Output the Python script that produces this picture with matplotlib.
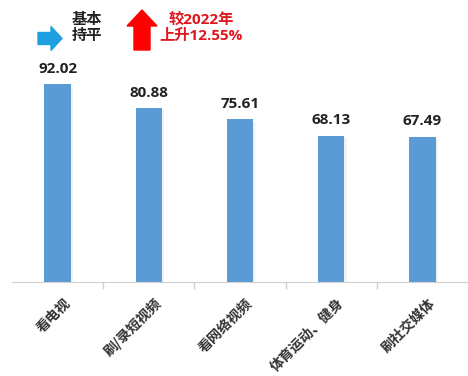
import matplotlib.pyplot as plt
import matplotlib.patches as mpatches
import matplotlib.patheffects as pe

plt.rcParams['font.family'] = ['Open Sans', 'Noto Sans CJK SC', 'DejaVu Sans']

categories = ["看电视", "刷/录短视频", "看网络视频", "体育运动、健身", "刷社交媒体"]
values = [92.02, 80.88, 75.61, 68.13, 67.49]

W, H = 468, 376
fig = plt.figure(figsize=(W / 100, H / 100), dpi=100)
ax = fig.add_axes([12 / W, 94 / H, 456 / W, 215 / H])

x = range(len(categories))
bars = ax.bar(x, values, width=0.29, color="#5B9BD5", zorder=2)
for b in bars:
    b.set_path_effects([pe.SimplePatchShadow(offset=(1.5, -1.5), alpha=0.08,
                                             shadow_rgbFace="#555555"),
                        pe.Normal()])
for i, v in zip(x, values):
    ax.text(i, v + 4, f"{v:.2f}", ha="center", va="bottom",
            fontsize=11, fontweight="bold", color="#222222")

ax.set_xlim(-0.5, len(categories) - 0.5)
ax.set_ylim(0, 100)
ax.set_yticks([])
ax.set_xticks([i + 0.5 for i in range(len(categories) - 1)])
ax.set_xticklabels([])
ax.tick_params(axis="x", length=5, color="#d0d0d0", width=1)
for i, c in enumerate(categories):
    ax.text(i + 0.06, -0.065, c, transform=ax.get_xaxis_transform(),
            rotation=45, ha="right", va="top", rotation_mode="anchor",
            fontsize=10, fontweight="bold", color="#333333",
            family=["Noto Sans CJK SC", "DejaVu Sans"])
for s in ["top", "right", "left"]:
    ax.spines[s].set_visible(False)
ax.spines["bottom"].set_color("#d0d0d0")


def fx(px):
    return px / W


def fy(py):
    return 1 - py / H


blue = mpatches.FancyArrow(fx(38), fy(38.5), fx(13), 0, width=12 / H,
                           head_width=24 / H, head_length=11 / W,
                           length_includes_head=False, color="#1E9FE0",
                           transform=fig.transFigure)
fig.add_artist(blue)
fig.text(fx(72), fy(28), "基本\n持平", ha="left", va="center",
         fontsize=11, fontweight="bold", color="#222222", linespacing=1.15)

red = mpatches.FancyArrow(fx(142), fy(50), 0, 24 / H, width=16 / W,
                          head_width=30 / W, head_length=16 / H,
                          length_includes_head=False, color="#FF0000",
                          transform=fig.transFigure)
fig.add_artist(red)
fig.text(fx(201), fy(28), "较2022年\n上升12.55%", ha="center", va="center",
         fontsize=11, fontweight="bold", color="#E0161E", linespacing=1.15)

fig.savefig("out.png", dpi=100)
